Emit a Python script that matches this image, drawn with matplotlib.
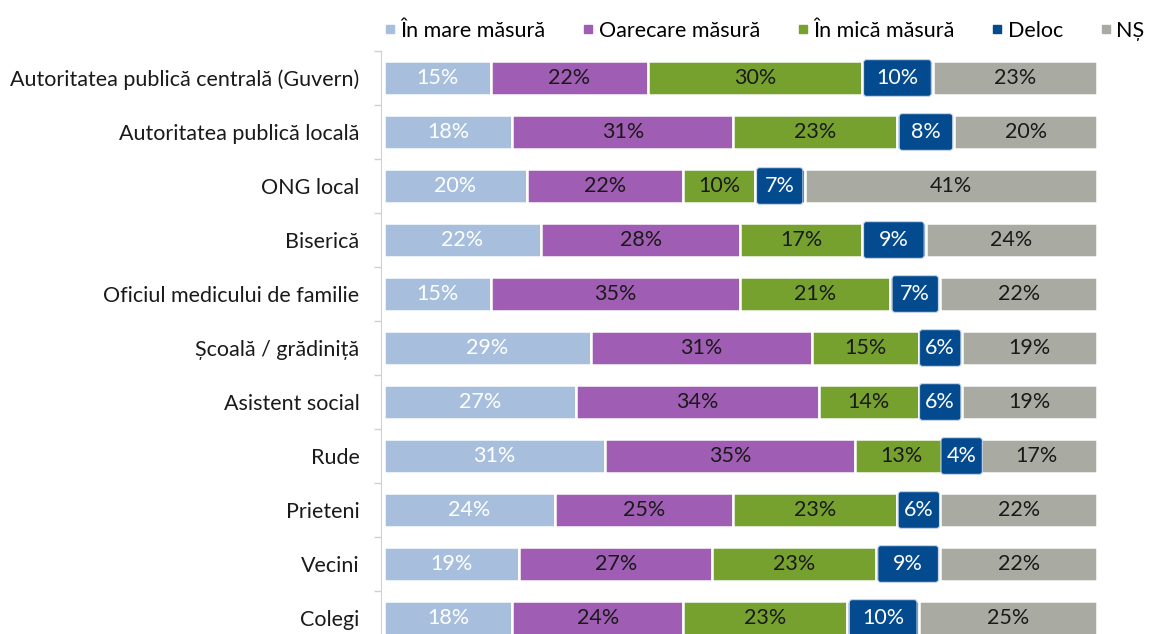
import numpy as np
import matplotlib.pyplot as plt
from matplotlib.patches import FancyBboxPatch
from matplotlib.lines import Line2D

plt.rcParams['font.family'] = ['Lato', 'DejaVu Sans']

categories = ['Autoritatea publică centrală (Guvern)', 'Autoritatea publică locală',
              'ONG local', 'Biserică', 'Oficiul medicului de familie',
              'Școală / grădiniță', 'Asistent social', 'Rude', 'Prieteni',
              'Vecini', 'Colegi']
series = ['În mare măsură', 'Oarecare măsură', 'În mică măsură', 'Deloc', 'NȘ']
mare = [15, 18, 20, 22, 15, 29, 27, 31, 24, 19, 18]
oarecare = [22, 31, 22, 28, 35, 31, 34, 35, 25, 27, 24]
mica = [30, 23, 10, 17, 21, 15, 14, 13, 23, 23, 23]
deloc = [10, 8, 7, 9, 7, 6, 6, 4, 6, 9, 10]
ns = [23, 20, 41, 24, 22, 19, 19, 17, 22, 22, 25]

colors = ['#A7BFDD', '#A05DB4', '#76A12E', '#034A8E', '#A9ABA3']
text_colors = ['white', '#1a1a1a', '#1a1a1a', 'white', '#1a1a1a']
FS = 15.5

W, H = 1151, 634
fig = plt.figure(figsize=(W / 100, H / 100), dpi=100)
ax = fig.add_axes([381 / W, (634 - 645) / H, (1100 - 381) / W, (645 - 51) / H])

y = np.arange(len(categories))
left = np.zeros(len(categories))
bar_h = 0.62
for vals, name, c, tc in zip([mare, oarecare, mica, deloc, ns], series, colors, text_colors):
    vals = np.array(vals, dtype=float)
    ax.barh(y, vals, left=left, height=bar_h, color=c, edgecolor='white',
            linewidth=1.8, label=name)
    for yi, l, v in zip(y, left, vals):
        if name == 'Deloc':
            # rounded label box, at least wide enough for the text
            bw = max(v - 0.5, 5.8)
            cx = l + v / 2
            box = FancyBboxPatch((cx - bw / 2, yi - bar_h / 2 - 0.03), bw, bar_h + 0.06,
                                 boxstyle='round,pad=0,rounding_size=0.45',
                                 mutation_aspect=0.132, facecolor=c,
                                 edgecolor='#c9d6ea', linewidth=0.8, zorder=3)
            ax.add_patch(box)
        ax.text(l + v / 2, yi, f'{int(v)}%', ha='center', va='center',
                color=tc, fontsize=FS, zorder=4)
    left += vals

ax.set_xlim(-0.4, 100.4)
ax.set_ylim(len(categories) - 0.5, -0.5)
ax.set_yticks(y)
ax.set_yticklabels(categories, fontsize=FS, color='#1a1a1a')
ax.set_yticks(np.arange(-0.5, len(categories), 1), minor=True)
ax.tick_params(axis='y', which='major', length=0, pad=15.5)
ax.tick_params(axis='y', which='minor', length=5, color='#d0d0d0', width=1)
ax.set_xticks([])
for s in ['top', 'right', 'bottom']:
    ax.spines[s].set_visible(False)
ax.spines['left'].set_color('#d0d0d0')

handles = [Line2D([], [], marker='s', linestyle='none', color=c, markersize=5.5)
           for c in colors]
fig.legend(handles, series, loc='upper left', bbox_to_anchor=(376 / W, 1 - 12 / H),
           ncol=5, frameon=False, fontsize=FS, handlelength=0.5,
           handletextpad=0.25, columnspacing=1.72, borderaxespad=0)

fig.savefig('out.png', dpi=100)
